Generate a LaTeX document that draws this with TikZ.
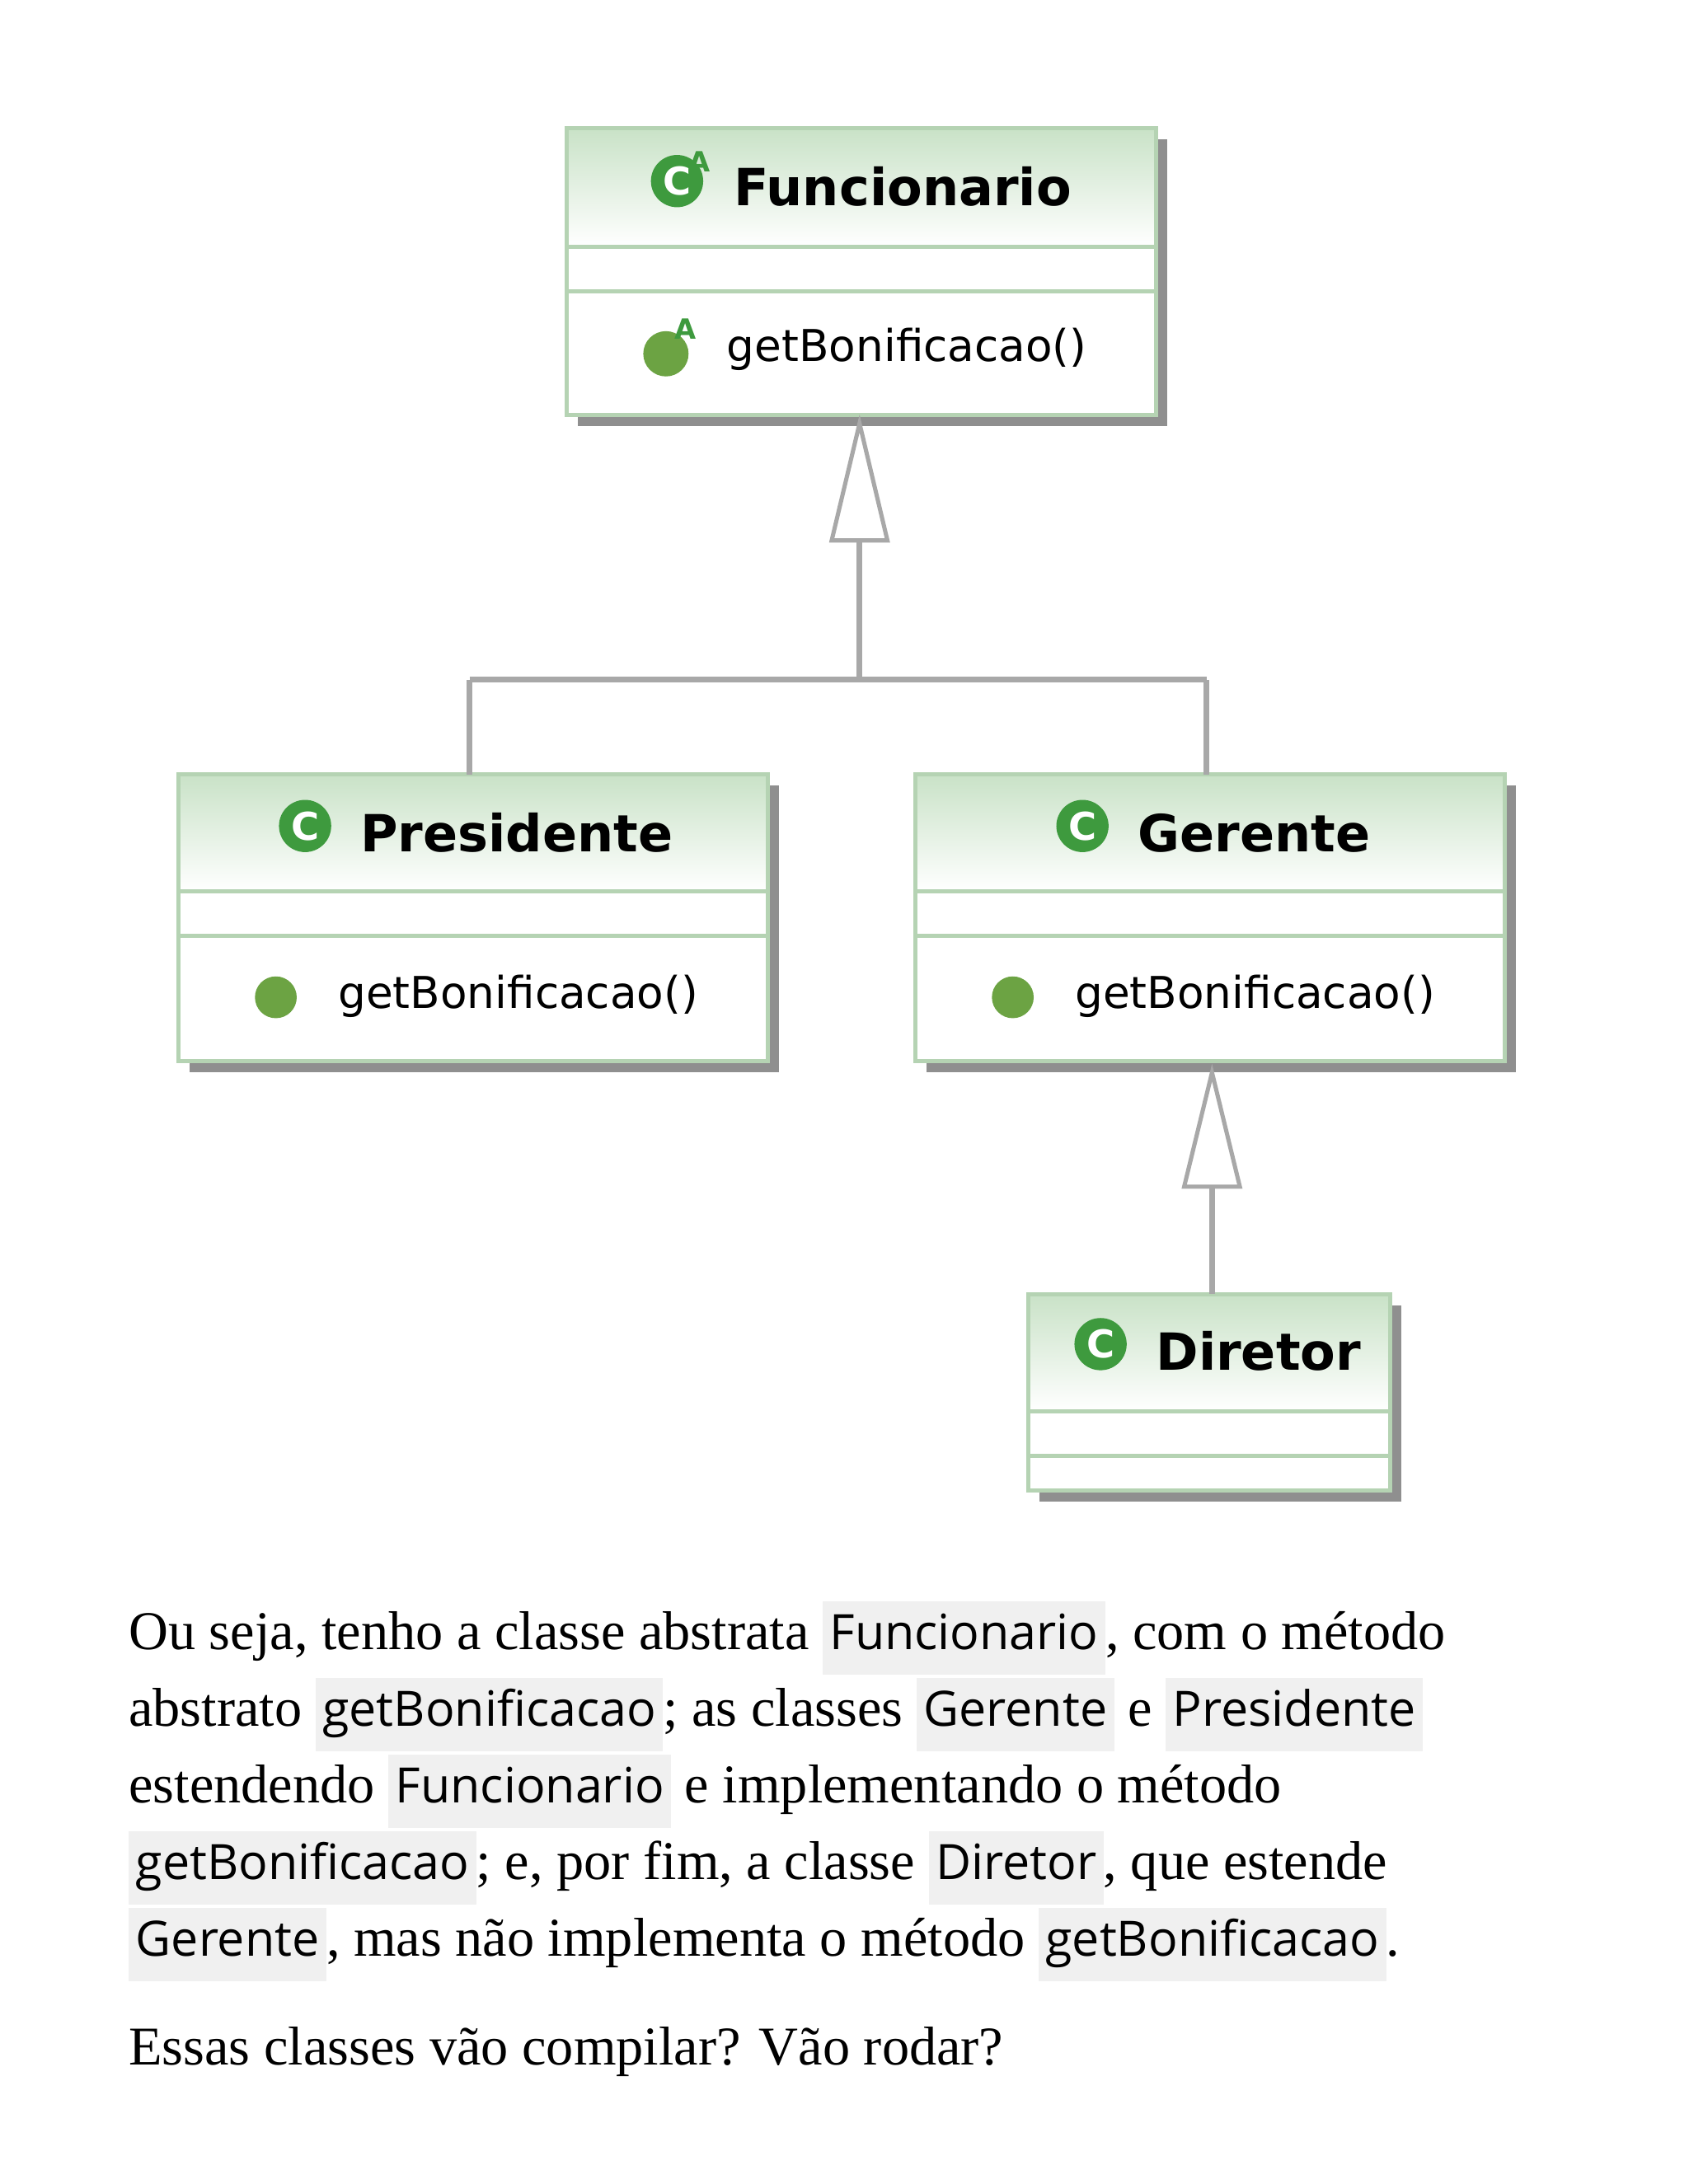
\documentclass[tikz,border=0pt]{standalone}
\usepackage{fontspec}
\setmainfont{Liberation Serif}
\newfontfamily\umlfont{DejaVu Sans}
\newfontfamily\codefont{Open Sans}
\usetikzlibrary{arrows.meta}
\definecolor{hdr}{HTML}{C9E2C7}
\definecolor{frame}{HTML}{B5D3B3}
\definecolor{shad}{HTML}{8F8F8F}
\definecolor{icon}{HTML}{3E9A3E}
\definecolor{dot}{HTML}{6CA343}
\definecolor{codebg}{HTML}{F0F0F0}
\definecolor{conn}{HTML}{A8A8A8}
\newcommand\cod[1]{{\setlength\fboxsep{2pt}\colorbox{codebg}{\fontsize{14}{17}\codefont\strut #1}}}
\tikzset{
 clsname/.style={font=\umlfont\bfseries\fontsize{14.7}{18}\selectfont, anchor=west},
 meth/.style={font=\umlfont\fontsize{12.6}{16}\selectfont, anchor=west},
 para/.style={anchor=west, font=\fontsize{15.7}{18}\selectfont, inner sep=0pt},
 conline/.style={draw=conn, line width=1.6pt},
}
\newcommand\umlbox[7]{% name x1 y1 x2 y2 l1 l2
 \fill[shad] (#2+8,#3+8) rectangle (#4+8,#5+8);
 \fill[white] (#2,#3) rectangle (#4,#5);
 \shade[top color=hdr, bottom color=white] (#2,#3) rectangle (#4,#6);
 \draw[frame, line width=1.2pt] (#2,#3) rectangle (#4,#5);
 \draw[frame, line width=1.2pt] (#2,#6) -- (#4,#6) (#2,#7) -- (#4,#7);
}
\newcommand\cicon[2]{% at, name
 \node[circle, fill=icon, inner sep=0pt, minimum size=15pt, text=white, font=\umlfont\bfseries\fontsize{11}{11}\selectfont] (#2) at (#1) {C};
}
\begin{document}
\begin{tikzpicture}[x=0.4pt,y=-0.4pt]
\useasboundingbox (0,0) rectangle (1212,1568);
\fill[white] (0,0) rectangle (1212,1568);
% boxes
\umlbox{F}{407}{92}{830}{298}{177}{209}
\umlbox{P}{128}{556}{551}{762}{640}{672}
\umlbox{G}{657}{556}{1080}{762}{640}{672}
\umlbox{D}{738}{929}{998}{1070}{1013}{1045}
% names
\cicon{486,130}{fi}
\node[font=\umlfont\bfseries\fontsize{8}{8}\selectfont, text=icon] at (502,116) {A};
\node[clsname] (fn) at (518,134) {Funcionario};
\fill[dot] (478,254) circle (6.5pt);
\node[font=\umlfont\bfseries\fontsize{8}{8}\selectfont, text=icon] at (492,236) {A};
\node[meth] (fm) at (513,251) {getBonificacao()};
\cicon{219,593}{pi}
\node[clsname] (pn) at (250,598) {Presidente};
\fill[dot] (198,716) circle (6pt);
\node[meth] (pm) at (234,715) {getBonificacao()};
\cicon{777,593}{gi}
\node[clsname] (gn) at (808,598) {Gerente};
\fill[dot] (727,716) circle (6pt);
\node[meth] (gm) at (763,715) {getBonificacao()};
\cicon{790,965}{di}
\node[clsname] (dn) at (821,970) {Diretor};
% connectors
\coordinate (ft) at (617,304);
\coordinate (j) at (617,488);
\coordinate (pt) at (337,556);
\coordinate (gt) at (866,556);
\draw[conline] (617,388) -- (j) (337,488) -- (866,488) (337,488) -- (pt) (866,488) -- (gt);
\draw[conn, line width=1.2pt, fill=white] (ft) -- (637,388) -- (597,388) -- cycle;
\coordinate (gb) at (870,770);
\coordinate (dtop) at (870,929);
\draw[conline] (870,852) -- (dtop);
\draw[conn, line width=1.2pt, fill=white] (gb) -- (890,852) -- (850,852) -- cycle;
% text
\node[para] (l1) at (92,1176) {Ou seja, tenho a classe abstrata \cod{Funcionario}, com o método};
\node[para] (l2) at (92,1231) {abstrato \cod{getBonificacao}; as classes \cod{Gerente} e \cod{Presidente}};
\node[para] (l3) at (92,1286) {estendendo \cod{Funcionario} e implementando o método};
\node[para] (l4) at (92,1341) {\cod{getBonificacao}; e, por fim, a classe \cod{Diretor}, que estende};
\node[para] (l5) at (92,1396) {\cod{Gerente}, mas não implementa o método \cod{getBonificacao}.};
\node[para] (l6) at (92,1473) {Essas classes vão compilar? Vão rodar?};
\end{tikzpicture}
\end{document}
